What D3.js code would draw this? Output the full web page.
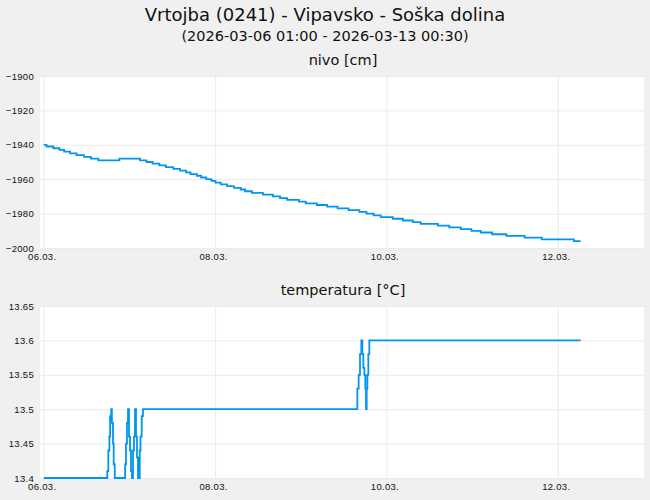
<!DOCTYPE html>
<html>
<head>
<meta charset="utf-8">
<script src="https://cdn.jsdelivr.net/npm/d3@7"></script>
<style>
  body { margin: 0; background: #f0f0f0; }
  svg { display: block; font-family: "DejaVu Sans", sans-serif; }
  .grid line { stroke: #ebebeb; stroke-width: 1; }
  .tick text { fill: #111; font-size: 9.5px; letter-spacing: 0.3px; }
</style>
</head>
<body>
<svg id="chart" width="650" height="500"></svg>
<script>
// Data (hours after 06.03. 00:00, value holds until the next change)
const startTime = new Date(2026, 2, 6, 0, 0);
const nivoHours = [0, 0.8, 2.7, 4.4, 5.7, 7.4, 9.2, 11.3, 13.2, 15.3, 21.2, 27, 28.8, 30.5, 32.4, 34.2,
  36.3, 38.2, 39.9, 41.1, 42.9, 44.1, 45.5, 47.0, 48.1, 49.6, 51.4, 53.3, 55.2, 56.4, 58.3, 61.4, 64.2,
  66.2, 68.2, 71.5, 73.4, 76.5, 79.4, 82.3, 85.4, 88.4, 90.4, 92.4, 94.4, 97.8, 100.6, 103.4, 105.6,
  110.4, 113.6, 116.8, 119.8, 122.4, 125.6, 129.6, 134.7, 139.5, 148.5, 150.4];
const nivoValues = [-1940, -1941, -1942, -1943, -1944, -1945, -1946, -1947, -1948, -1949, -1948, -1949,
  -1950, -1951, -1952, -1953, -1954, -1955, -1956, -1957, -1958, -1959, -1960, -1961, -1962, -1963, -1964,
  -1965, -1966, -1967, -1968, -1969, -1970, -1971, -1972, -1973, -1974, -1975, -1976, -1977, -1978, -1979,
  -1980, -1981, -1982, -1983, -1984, -1985, -1986, -1987, -1988, -1989, -1990, -1991, -1992, -1993, -1994,
  -1995, -1996, -1996];

const tempHours = [0, 17.8, 18.1, 18.4, 18.6, 18.9, 19.1, 19.4, 19.6, 19.9, 22.8, 23.05, 23.33, 23.61,
  23.89, 24.17, 24.45, 24.73, 25.01, 25.29, 25.57, 25.85, 26.13, 26.41, 26.9, 27.1, 27.45, 27.8,
  87.85, 88.22, 88.6, 88.97, 89.25, 89.53, 89.81, 90.09, 90.28, 90.47, 90.66, 90.93, 91.21, 150.4];
const tempValues = [13.4, 13.41, 13.44, 13.46, 13.49, 13.5, 13.48, 13.45, 13.42, 13.4, 13.42, 13.45, 13.48, 13.5,
  13.46, 13.44, 13.41, 13.4, 13.44, 13.46, 13.5, 13.46, 13.43, 13.4, 13.44, 13.46, 13.49, 13.5,
  13.53, 13.55, 13.58, 13.6, 13.58, 13.56, 13.55, 13.53, 13.5, 13.53, 13.55, 13.58, 13.6, 13.6];

const xTicks = [new Date(2026, 2, 6), new Date(2026, 2, 8), new Date(2026, 2, 10), new Date(2026, 2, 12)];
const nivoTicks = [-1900, -1920, -1940, -1960, -1980, -2000];
const tempTicks = [13.4, 13.45, 13.5, 13.55, 13.6, 13.65];

const title = "Vrtojba (0241) - Vipavsko - Soška dolina";
const subtitle = "(2026-03-06 01:00 - 2026-03-13 00:30)";

const hourMs = 3600 * 1000;
const toDate = h => new Date(startTime.getTime() + h * hourMs);

const svg = d3.select("#chart");
const left = 40, right = 644, plotH = 172;

const x = d3.scaleTime()
  .domain([toDate(-1.04), toDate(168.15)])
  .range([left, right]);

svg.append("text").attr("x", 325).attr("y", 21)
  .attr("text-anchor", "middle").attr("font-size", 18).attr("fill", "#111").text(title);
svg.append("text").attr("x", 325).attr("y", 40.5)
  .attr("text-anchor", "middle").attr("font-size", 14.5).attr("fill", "#111").text(subtitle);

function panel(top, label, hours, values, domain, ticks, fmt) {
  const y = d3.scaleLinear().domain(domain).range([top + plotH, top]);

  svg.append("rect").attr("x", left).attr("y", top)
    .attr("width", right - left).attr("height", plotH).attr("fill", "#fff");

  svg.append("text").attr("x", (left + right) / 2 + 1).attr("y", top - 11)
    .attr("text-anchor", "middle").attr("font-size", 14.5).attr("fill", "#111").text(label);

  // y axis + horizontal grid
  const gy = svg.append("g").attr("class", "grid")
    .attr("transform", `translate(${left},0)`)
    .call(d3.axisLeft(y).tickValues(ticks).tickSize(-(right - left)).tickPadding(6).tickFormat(fmt));
  gy.select(".domain").remove();

  // x axis + vertical grid
  const gx = svg.append("g").attr("class", "grid")
    .attr("transform", `translate(0,${top + plotH})`)
    .call(d3.axisBottom(x).tickValues(xTicks).tickSize(-plotH).tickPadding(5)
      .tickFormat(d3.timeFormat("%d.%m.")));
  gx.select(".domain").remove();
  gx.selectAll(".tick text").attr("dx", -2);

  const pts = hours.map((h, i) => ({ t: toDate(h), v: values[i] }));
  const line = d3.line()
    .x(d => x(d.t))
    .y(d => y(d.v))
    .curve(d3.curveStepAfter);

  svg.append("path").datum(pts)
    .attr("d", line)
    .attr("fill", "none")
    .attr("stroke", "#0096f0")
    .attr("stroke-width", 1.8);
}

panel(76, "nivo [cm]", nivoHours, nivoValues, [-2000, -1900], nivoTicks, d3.format("d"));
panel(306, "temperatura [°C]", tempHours, tempValues, [13.4, 13.65], tempTicks, d => String(d));
</script>
</body>
</html>
